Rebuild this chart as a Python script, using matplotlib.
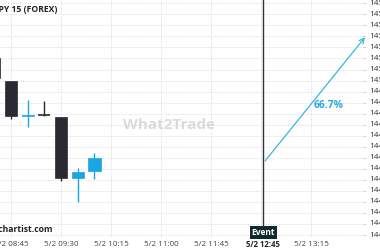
import matplotlib
matplotlib.use("Agg")
import matplotlib.pyplot as plt
import numpy as np

# minutes after 5/2 08:45
times = [-15, 0, 15, 30, 45, 60, 75]
opens = [145.10, 145.00, 144.840, 144.845, 144.835, 144.558, 144.590]
highs = [145.13, 145.00, 144.912, 144.907, 144.835, 144.604, 144.672]
lows = [145.00, 144.826, 144.790, 144.840, 144.545, 144.450, 144.554]
closes = [145.01, 144.839, 144.845, 144.843, 144.558, 144.586, 144.649]

tick_times = [0, 45, 90, 135, 180, 270]
tick_labels = ["5/2 08:45", "5/2 09:30", "5/2 10:15", "5/2 11:00", "5/2 11:45", "5/2 13:15"]
event_time = 227
event_label = "5/2 12:45"
event_price = 144.626
target_time = 320
target_price = 145.206
pct_text = "66.7%"
y_ticks = [round(145.35 - 0.05 * i, 2) for i in range(22)]
title = "USDJPY 15 (FOREX)"

BLUE = "#1ba6e1"
DARK = "#2a2a32"
FONT = "Open Sans"
Y0, Y1 = 144.291, 145.365

fig = plt.figure(figsize=(3.8, 2.5), dpi=100)
ax = fig.add_axes([0, 1 - 237 / 250, 364 / 380, 237 / 250])
ax.set_xlim(-9.9, 317.5)
ax.set_ylim(Y0, Y1)

for s in ax.spines.values():
    s.set_visible(False)

# grid
for yv in y_ticks:
    ax.axhline(yv, color="#dcdcdc", lw=0.6, ls=(0, (1.5, 1.5)), zorder=0)
for tv in tick_times + [225]:
    ax.axvline(tv, color="#dcdcdc", lw=0.6, ls=(0, (1.5, 1.5)), zorder=0)

w = 11
for t, o, h, l, c in zip(times, opens, highs, lows, closes):
    col = BLUE if c >= o else DARK
    ax.vlines(t, l, h, color=col, lw=1.0, zorder=2)
    bottom = min(o, c)
    height = abs(c - o)
    if height < 0.004:
        ax.hlines((o + c) / 2, t - w / 2, t + w / 2, color=col, lw=1.2, zorder=3)
    else:
        ax.bar(t, height, bottom=bottom, width=w, color=col, edgecolor=col, lw=0.5, zorder=3)

# event line
ax.axvline(event_time, color="#2f3337", lw=1.0, zorder=4)

# arrow
ax.annotate("", xy=(target_time, target_price), xytext=(event_time, event_price),
            arrowprops=dict(arrowstyle="->", color="#3ab4e6", lw=0.9, mutation_scale=9),
            zorder=5, annotation_clip=False)
ax.text(272, 144.885, pct_text, color="#2ba9e3", fontsize=7.4, fontfamily=FONT,
        fontweight="bold", va="center", ha="left")

# watermark
ax.text(142, 144.798, "What2Trade", color="#cfcfcf", fontsize=11, fontfamily=FONT,
        fontweight="bold", ha="center", va="center", alpha=0.75, zorder=1)

ax.set_xticks([])
ax.set_yticks([])

# y tick labels on right (cut at figure edge like the reference)
for yv in y_ticks:
    fy = (yv - Y0) / (Y1 - Y0)
    ax.text(1.0137, fy, f"{yv:.2f}", transform=ax.transAxes,
            fontsize=6, fontfamily=FONT, color="#333333", va="center", ha="left", clip_on=False)
    ax.plot([0.9965, 1.004], [fy, fy], transform=ax.transAxes,
            color="#cccccc", lw=0.6, clip_on=False)

# x tick labels
for tv, lab in zip(tick_times, tick_labels):
    ax.text(tv, -0.03, lab, transform=ax.get_xaxis_transform(), fontsize=5.8,
            fontfamily=FONT, color="#444444", ha="center", va="center", clip_on=False)
ax.text(event_time, -0.03, event_label, transform=ax.get_xaxis_transform(), fontsize=5.6,
        fontfamily=FONT, color="#222222", fontweight="bold", ha="center", va="center", clip_on=False)

# event box
ax.text(event_time, 0.0205, "Event", transform=ax.get_xaxis_transform(), fontsize=6,
        fontfamily=FONT, color="white", fontweight="bold", ha="center", va="center",
        bbox=dict(boxstyle="square,pad=0.25", fc="#0f2a2e", ec="none"), zorder=6)

# title and site text
fig.text(57 / 380, 1 - 10 / 250, title, fontsize=6.2, fontfamily=FONT, fontweight="bold",
         color="#222222", ha="right", va="center")
fig.text(53 / 380, 1 - 229 / 250, "forexchartist.com", fontsize=6.2, fontfamily=FONT,
         fontweight="bold", color="#222222", ha="right", va="center")

fig.savefig("out.png", dpi=100)
